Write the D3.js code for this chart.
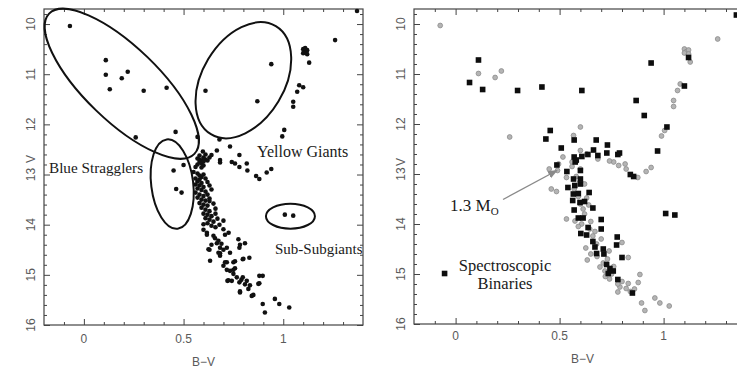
<!DOCTYPE html>
<html><head><meta charset="utf-8">
<script src="https://cdn.jsdelivr.net/npm/d3@7"></script>
<style>
html,body{margin:0;padding:0;background:#fff;}
svg{display:block;}
</style></head>
<body>
<script>
// ---------- DATA ----------
const xDomain = [-0.2, 1.4];
const yDomain = [9.7, 16];
const xMajorTicks = [0, 0.5, 1];
const xTickLabels = ["0", "0.5", "1"];
const xMinorTicks = [-0.1, 0.1, 0.2, 0.3, 0.4, 0.6, 0.7, 0.8, 0.9, 1.1, 1.2, 1.3];
const yMajorTicks = [10, 11, 12, 13, 14, 15, 16];
const yTickLabels = ["10", "11", "12", "13", "14", "15", "16"];
const yMinorTicks = [9.8, 10.2, 10.4, 10.6, 10.8, 11.2, 11.4, 11.6, 11.8, 12.2, 12.4, 12.6, 12.8,
  13.2, 13.4, 13.6, 13.8, 14.2, 14.4, 14.6, 14.8, 15.2, 15.4, 15.6, 15.8];

// Left panel: all members [B-V, V]
const leftStars = [
  [-0.07,10.04],[0.11,10.72],[0.11,11.01],[0.13,11.30],[0.19,11.08],[0.22,10.95],[0.30,11.33],[0.415,11.27],
  [0.26,12.26],[0.46,12.15],[0.57,12.25],[0.61,11.33],[0.87,11.54],[0.94,10.80],[1.26,10.32],[1.37,9.74],
  [1.10,10.50],[1.11,10.55],[1.12,10.52],[1.10,10.58],[1.12,10.60],[1.11,10.48],[1.13,10.77],
  [1.08,11.22],[1.10,11.26],[1.07,11.35],[1.05,11.55],[1.05,11.65],[1.005,12.11],[0.995,12.24],
  [0.68,12.30],[0.733,12.44],[0.78,12.61],[0.667,12.52],[0.64,12.61],[0.683,12.71],[0.683,12.76],
  [0.742,12.75],[0.758,12.78],[0.817,12.78],[0.82,12.92],[0.78,12.85],[0.864,13.03],[0.88,13.09],
  [0.917,12.96],[0.94,12.89],[0.597,12.54],
  [0.45,12.92],[0.50,12.81],[0.463,13.29],[0.49,13.36],
  [1.008,13.80],[1.05,13.82],
  [0.57,12.68],[0.58,12.70],[0.59,12.72],[0.60,12.66],[0.61,12.70],[0.58,12.75],[0.59,12.78],[0.60,12.74],
  [0.62,12.72],[0.57,12.80],[0.60,12.82],[0.56,12.85],[0.58,12.62],[0.61,12.60],[0.63,12.66],[0.59,12.86],
  [0.55,12.95],[0.57,12.98],[0.58,13.02],[0.60,13.00],[0.56,13.08],[0.58,13.10],[0.59,13.05],[0.61,13.08],
  [0.57,13.14],[0.59,13.17],[0.62,13.15],[0.56,13.20],[0.58,13.22],[0.60,13.25],[0.63,13.22],[0.57,13.28],
  [0.59,13.31],[0.61,13.34],[0.64,13.30],[0.56,13.36],[0.58,13.40],[0.60,13.43],[0.62,13.40],[0.57,13.46],
  [0.59,13.50],[0.61,13.52],[0.63,13.48],[0.58,13.57],[0.60,13.60],[0.62,13.62],[0.65,13.58],[0.59,13.66],
  [0.61,13.70],[0.63,13.73],[0.60,13.78],[0.62,13.80],[0.64,13.83],[0.66,13.78],[0.61,13.87],[0.63,13.90],
  [0.65,13.94],[0.67,13.88],[0.62,13.97],[0.64,14.02],[0.66,14.05],[0.68,14.00],
  [0.63,13.53],[0.66,13.68],[0.70,13.92],[0.70,14.09],[0.726,14.16],[0.60,13.99],[0.617,14.16],[0.65,14.22],
  [0.675,14.32],[0.683,14.46],[0.625,14.49],[0.633,14.72],[0.675,14.56],[0.683,14.62],[0.717,14.46],
  [0.733,14.56],[0.775,14.29],[0.808,14.37],[0.78,14.46],[0.83,14.66],[0.80,14.68],[0.70,14.82],
  [0.717,14.75],[0.733,14.92],[0.75,14.98],[0.72,15.12],[0.767,15.05],[0.797,15.05],[0.78,15.15],
  [0.808,15.19],[0.783,15.35],[0.825,15.28],[0.85,15.40],[0.88,15.17],[0.88,15.02],[0.897,15.02],
  [0.833,15.21],[0.897,15.58],[0.908,15.75],[0.958,15.48],[0.98,15.58],[1.03,15.65],[0.75,14.75],
  [0.758,14.87],[0.817,15.12],[0.742,15.12],
  [0.708,14.20],[0.783,14.40],[0.63,14.50],[0.667,14.37],[0.683,14.57],[0.797,14.69],[0.708,14.75],
  [0.758,14.73],[0.717,14.90],[0.75,14.90],[0.725,15.11],[0.79,15.10],[0.875,15.18],[0.783,15.33],
  [0.842,15.42],[0.60,14.10],[0.617,14.20],[0.658,14.27],[0.70,14.50],[0.69,14.38],[0.64,14.40]
];

// Right panel: non-binary members (grey circles) [B-V, V]
const rightMembers = [
  [-0.074,10.03],[0.11,10.99],[0.19,11.07],[0.22,10.94],[0.26,12.26],[0.60,12.06],[0.567,12.23],[1.26,10.30],
  [1.10,10.50],[1.11,10.55],[1.12,10.52],[1.10,10.58],[1.12,10.60],[1.128,10.76],[1.08,11.20],[1.067,11.33],
  [1.048,11.53],[1.048,11.65],[1.005,12.13],[0.99,12.24],[0.94,12.87],[0.916,12.95],[0.876,13.07],
  [0.815,12.80],[0.82,12.90],[0.784,12.83],[0.76,12.76],[0.74,12.74],[0.684,12.70],[0.60,12.53],
  [0.516,12.66],[0.45,12.90],[0.495,12.80],[0.56,12.76],[0.49,12.93],[0.533,13.07],[0.46,13.30],
  [0.485,13.35],[0.62,13.20],[0.63,13.48],[0.613,13.70],[0.533,13.90],[0.626,14.48],[0.633,14.72],
  [0.83,14.67],[0.80,14.37],[0.738,14.54],[0.694,14.86],[0.718,14.94],[0.886,15.01],[0.878,15.17],
  [0.80,15.15],[0.83,15.19],[0.79,15.26],[0.78,15.36],[0.82,15.29],[0.894,15.58],[0.91,15.73],
  [0.958,15.48],[0.982,15.58],[1.027,15.64],[0.71,14.78],[0.75,15.0],[0.645,14.10],[0.606,14.0],
  [0.66,14.24],[0.678,14.40],[0.574,13.94],[0.58,13.05],[0.60,13.15],[0.57,13.30],[0.59,13.45],
  [0.60,13.60],[0.64,13.62],[0.62,13.80],[0.65,13.95],[0.59,14.05],[0.67,14.15],[0.70,14.30],
  [0.65,14.60],[0.68,14.65],[0.73,14.70],[0.76,14.85],[0.72,15.05],[0.74,15.10],[0.78,15.20],
  [0.86,15.30],[0.84,15.35],[0.56,12.85],[0.58,12.75],[0.63,12.60],[0.60,12.90]
];

// Right panel: spectroscopic binaries (black squares) [B-V, V]
const rightBinaries = [
  [0.11,10.72],[0.067,11.17],[0.13,11.31],[0.298,11.33],[0.415,11.26],[0.607,11.33],[0.94,10.78],[1.35,9.82],
  [1.12,10.67],[1.10,11.24],[0.868,11.53],[0.907,11.83],[1.016,12.06],[0.971,12.54],[0.455,12.13],
  [0.434,12.30],[0.57,12.32],[0.676,12.32],[0.508,12.48],[0.663,12.52],[0.73,12.42],[0.727,12.58],
  [0.78,12.61],[0.788,12.58],[0.684,12.63],[0.636,12.61],[0.607,12.65],[0.57,12.66],[0.575,12.76],
  [0.58,12.72],[0.487,12.82],[0.535,12.95],[0.60,12.93],[0.84,13.01],[0.856,13.05],[0.567,13.10],
  [0.60,13.10],[0.54,13.27],[0.573,13.23],[0.60,13.20],[0.642,13.37],[0.566,13.40],[0.59,13.39],
  [0.563,13.53],[0.598,13.57],[0.62,13.55],[0.66,13.68],[0.57,13.72],[0.59,13.88],[0.613,13.88],
  [0.70,13.91],[1.01,13.79],[1.054,13.82],[0.637,14.07],[0.70,14.10],[0.602,14.19],[0.63,14.22],
  [0.777,14.26],[0.774,14.42],[0.66,14.35],[0.67,14.46],[0.71,14.50],[0.678,14.59],[0.713,14.60],
  [0.80,14.67],[0.726,14.81],[0.742,14.89],[0.758,14.94],[0.734,14.99],[0.78,15.11],[0.85,15.38],
  [-0.053,14.99]
];

// Group ellipses on left panel (centres in [B-V, V])
const ellipseCentres = [[0.19,11.19],[0.80,11.12],[0.443,13.19],[1.036,13.83]];

// ---------- DRAW ----------
const W = 737, H = 372;
const svg = d3.select("body").append("svg").attr("width", W).attr("height", H);

function panel(xr, yr, labelX, labelY, yLabX) {
  // yr = [top, bottom] in pixels
  const x = d3.scaleLinear().domain(xDomain).range(xr);
  const y = d3.scaleLinear().domain(yDomain).range(yr);
  const g = svg.append("g");
  const axStroke = "#444";
  function styleAxis(sel) {
    sel.select(".domain").remove();
    sel.selectAll("line").attr("stroke", axStroke).attr("stroke-width", 1);
    sel.selectAll("text").remove();
  }
  g.append("g").attr("transform", `translate(0,${yr[1]})`).call(d3.axisBottom(x).tickValues(xMajorTicks).tickSize(-6)).call(styleAxis);
  g.append("g").attr("transform", `translate(0,${yr[1]})`).call(d3.axisBottom(x).tickValues(xMinorTicks).tickSize(-3)).call(styleAxis);
  g.append("g").attr("transform", `translate(0,${yr[0]})`).call(d3.axisTop(x).tickValues(xMajorTicks).tickSize(-6)).call(styleAxis);
  g.append("g").attr("transform", `translate(0,${yr[0]})`).call(d3.axisTop(x).tickValues(xMinorTicks).tickSize(-3)).call(styleAxis);
  g.append("g").attr("transform", `translate(${xr[0]},0)`).call(d3.axisLeft(y).tickValues(yMajorTicks).tickSize(-6)).call(styleAxis);
  g.append("g").attr("transform", `translate(${xr[0]},0)`).call(d3.axisLeft(y).tickValues(yMinorTicks).tickSize(-3)).call(styleAxis);
  g.append("g").attr("transform", `translate(${xr[1]},0)`).call(d3.axisRight(y).tickValues(yMajorTicks).tickSize(-6)).call(styleAxis);
  g.append("g").attr("transform", `translate(${xr[1]},0)`).call(d3.axisRight(y).tickValues(yMinorTicks).tickSize(-3)).call(styleAxis);
  g.append("rect").attr("x", xr[0]).attr("y", yr[0]).attr("width", xr[1]-xr[0]).attr("height", yr[1]-yr[0])
    .attr("fill", "none").attr("stroke", axStroke).attr("stroke-width", 1.2);

  const tf = "'Liberation Sans', Arial, sans-serif";
  g.selectAll(".xl").data(xMajorTicks).enter().append("text")
    .attr("x", d => x(d)).attr("y", labelX).attr("text-anchor", "middle")
    .attr("font-family", tf).attr("font-size", 12).attr("fill", "#5a5a5a")
    .text((d, i) => xTickLabels[i]);
  g.selectAll(".yl").data(yMajorTicks).enter().append("text")
    .attr("transform", d => `translate(${labelY},${y(d)}) rotate(-90)`)
    .attr("text-anchor", "middle")
    .attr("font-family", tf).attr("font-size", 12).attr("fill", "#5a5a5a")
    .text((d, i) => yTickLabels[i]);
  const visRight = Math.min(xr[1], 737);
  g.append("text").attr("x", (xr[0] + visRight) / 2 + (xr[1] > 737 ? 7 : 0)).attr("y", labelX + 23)
    .attr("text-anchor", "middle").attr("font-family", tf).attr("font-size", 12).attr("fill", "#5a5a5a").text("B−V");
  g.append("text").attr("transform", `translate(${labelY},${yLabX}) rotate(-90)`)
    .attr("text-anchor", "middle").attr("font-family", tf).attr("font-size", 12).attr("fill", "#5a5a5a").text("V");
  return {x, y, g};
}

// Left panel
const L = panel([44, 363], [9, 325], 343, 35, 159);
const serif = "'Liberation Serif', 'Times New Roman', serif";

L.g.selectAll(".ls").data(leftStars).enter().append("circle")
  .attr("cx", d => L.x(d[0])).attr("cy", d => L.y(d[1])).attr("r", 2.3).attr("fill", "#111");

const ellipseRx = [101, 63, 21, 24.5];
const ellipseRy = [37, 41, 45, 12.5];
const ellipseRot = [44, -59, -7, 0];
L.g.selectAll(".el").data(ellipseCentres).enter().append("ellipse")
  .attr("transform", (d, i) => `translate(${L.x(d[0])},${L.y(d[1])}) rotate(${ellipseRot[i]})`)
  .attr("rx", (d, i) => ellipseRx[i]).attr("ry", (d, i) => ellipseRy[i])
  .attr("fill", "none").attr("stroke", "#111").attr("stroke-width", 2);

const leftLabels = [
  {t: "Blue Stragglers", x: 49, y: 173, s: 15.2},
  {t: "Yellow Giants", x: 257, y: 157, s: 16},
  {t: "Sub-Subgiants", x: 275, y: 254, s: 15}
];
L.g.selectAll(".lab").data(leftLabels).enter().append("text")
  .attr("x", d => d.x).attr("y", d => d.y).attr("font-family", serif).attr("font-size", d => d.s)
  .attr("fill", "#1a1a1a").text(d => d.t);

// Right panel
const R = panel([414, 414 + 1.6 * 208], [9, 324], 340, 405, 162);

R.g.selectAll(".rm").data(rightMembers).enter().append("circle")
  .attr("cx", d => R.x(d[0])).attr("cy", d => R.y(d[1])).attr("r", 2.4)
  .attr("fill", "#b4b4b4").attr("stroke", "#8c8c8c").attr("stroke-width", 0.8);
R.g.selectAll(".rb").data(rightBinaries).enter().append("rect")
  .attr("x", d => R.x(d[0]) - 2.8).attr("y", d => R.y(d[1]) - 2.8).attr("width", 5.6).attr("height", 5.6)
  .attr("fill", "#0d0d0d");

// arrow to 1.3 Msun turnoff point
const defs = svg.append("defs");
defs.append("marker").attr("id", "ah").attr("viewBox", "0 0 10 10").attr("refX", 9).attr("refY", 5)
  .attr("markerWidth", 7).attr("markerHeight", 7).attr("orient", "auto")
  .append("path").attr("d", "M0,1 L10,5 L0,9 Z").attr("fill", "#8a8a8a");
R.g.append("line")
  .attr("x1", R.x(0.228)).attr("y1", R.y(13.51)).attr("x2", R.x(0.487)).attr("y2", R.y(12.93))
  .attr("stroke", "#8a8a8a").attr("stroke-width", 1.4).attr("marker-end", "url(#ah)");

const mt = R.g.append("text").attr("x", 450).attr("y", 211).attr("font-family", serif).attr("font-size", 17).attr("fill", "#1a1a1a");
mt.append("tspan").text("1.3 M");
mt.append("tspan").attr("dy", 4).attr("font-size", 11).text("O");

R.g.append("text").attr("x", 505).attr("y", 271).attr("text-anchor", "middle").attr("font-family", serif)
  .attr("font-size", 16.5).attr("fill", "#1a1a1a").text("Spectroscopic");
R.g.append("text").attr("x", 505).attr("y", 289).attr("text-anchor", "middle").attr("font-family", serif)
  .attr("font-size", 16.5).attr("fill", "#1a1a1a").text("Binaries");
</script>
</body></html>
